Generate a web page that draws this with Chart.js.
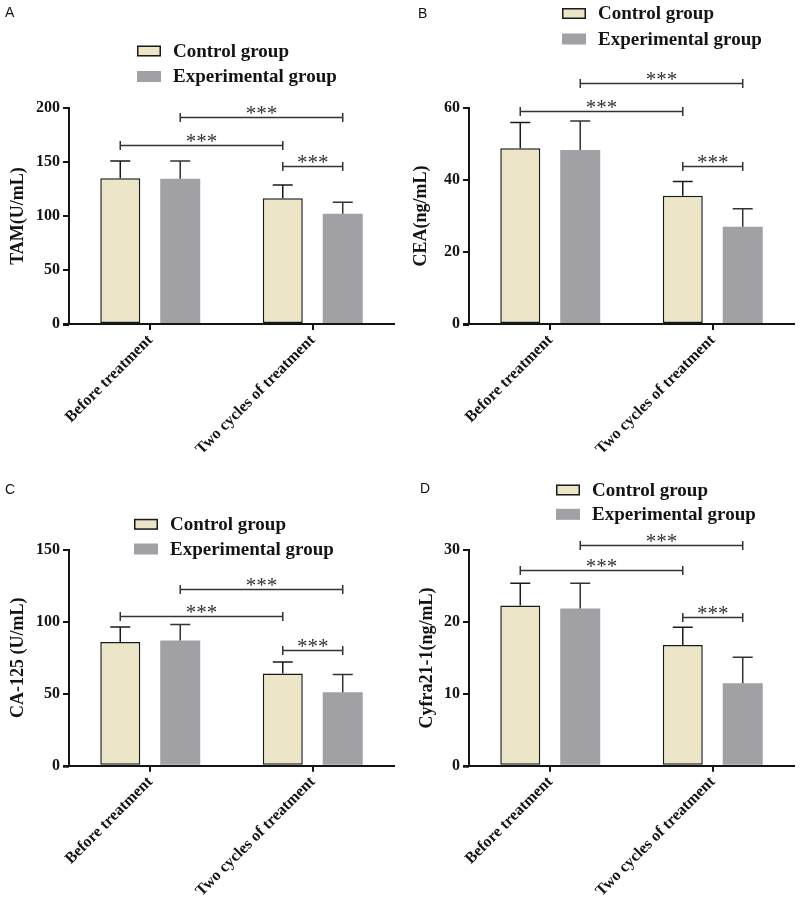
<!DOCTYPE html>
<html>
<head>
<meta charset="utf-8">
<title>Tumour markers before and after treatment</title>
<script src="https://cdn.jsdelivr.net/npm/chart.js@4.4.1/dist/chart.umd.min.js"></script>
<style>
  html, body { margin: 0; padding: 0; background: #fff; }
  #wrap { position: relative; width: 800px; height: 905px; overflow: hidden; }
  .panel { position: absolute; }
  canvas { display: block; }
</style>
</head>
<body>
<div id="wrap">
  <div class="panel" style="left:0;top:0"><canvas id="chartA" width="400" height="452"></canvas></div>
  <div class="panel" style="left:400px;top:0"><canvas id="chartB" width="400" height="452"></canvas></div>
  <div class="panel" style="left:0;top:452px"><canvas id="chartC" width="400" height="453"></canvas></div>
  <div class="panel" style="left:400px;top:452px"><canvas id="chartD" width="400" height="453"></canvas></div>
</div>
<script>
// data (mean and upper SD bar)
const categories = ['Before treatment', 'Two cycles of treatment'];
const groupNames = ['Control group', 'Experimental group'];

// A - TAM
const tamControl = [135.0, 116.4];
const tamControlSD = [16.0, 12.3];
const tamExperimental = [134.5, 102.1];
const tamExperimentalSD = [16.5, 10.6];
const tamTicks = [0, 50, 100, 150, 200];
const tamBrackets = [191.7, 165.7, 146.3];

// B - CEA
const ceaControl = [48.8, 35.6];
const ceaControlSD = [7.2, 4.0];
const ceaExperimental = [48.3, 27.0];
const ceaExperimentalSD = [8.1, 5.0];
const ceaTicks = [0, 20, 40, 60];
const ceaBrackets = [66.9, 59.1, 43.8];

// C - CA-125
const ca125Control = [86.1, 64.2];
const ca125ControlSD = [10.4, 8.0];
const ca125Experimental = [87.1, 51.0];
const ca125ExperimentalSD = [11.1, 12.5];
const ca125Ticks = [0, 50, 100, 150];
const ca125Brackets = [123.2, 104.0, 80.8];

// D - Cyfra21-1
const cyfraControl = [22.3, 16.8];
const cyfraControlSD = [3.1, 2.5];
const cyfraExperimental = [21.9, 11.5];
const cyfraExperimentalSD = [3.5, 3.6];
const cyfraTicks = [0, 10, 20, 30];
const cyfraBrackets = [30.8, 27.2, 20.7];

// which bars each bracket joins: [dataset, category]
const comparisons = [
    { from: [1, 0], to: [1, 1] },
    { from: [0, 0], to: [0, 1] },
    { from: [0, 1], to: [1, 1] }
];
const sigLabel = '***';

const SERIF = '"Liberation Serif", "Times New Roman", serif';
const SANS = '"Liberation Sans", Arial, sans-serif';
const controlFill = '#ece5c8';
const expFill = '#a0a0a5';
const ink = '#141414';

const panels = [
    { id: 'chartA', letter: 'A', letterPos: [5, 13], title: 'TAM(U/mL)', titlePad: 8,
      control: tamControl, controlSD: tamControlSD, exp: tamExperimental, expSD: tamExperimentalSD,
      ticks: tamTicks, brackets: tamBrackets,
      legendX: 137, legendY: [51, 76.5], top: 108, xAxisH: 128 },
    { id: 'chartB', letter: 'B', letterPos: [18, 14], title: 'CEA(ng/mL)', titlePad: 11,
      control: ceaControl, controlSD: ceaControlSD, exp: ceaExperimental, expSD: ceaExperimentalSD,
      ticks: ceaTicks, brackets: ceaBrackets,
      legendX: 162, legendY: [13.5, 39], top: 108, xAxisH: 128 },
    { id: 'chartC', letter: 'C', letterPos: [5, 38.5], title: 'CA-125 (U/mL)', titlePad: 8,
      control: ca125Control, controlSD: ca125ControlSD, exp: ca125Experimental, expSD: ca125ExperimentalSD,
      ticks: ca125Ticks, brackets: ca125Brackets,
      legendX: 134, legendY: [72.3, 97], top: 98, xAxisH: 139.3 },
    { id: 'chartD', letter: 'D', letterPos: [20, 37], title: 'Cyfra21-1(ng/mL)', titlePad: 17,
      control: cyfraControl, controlSD: cyfraControlSD, exp: cyfraExperimental, expSD: cyfraExperimentalSD,
      ticks: cyfraTicks, brackets: cyfraBrackets,
      legendX: 156, legendY: [38, 62.3], top: 98.3, xAxisH: 139.3 }
];

// error bars, significance brackets, legend and panel letter
function makeDecor(p) {
    const sds = [p.controlSD, p.expSD];
    return {
        id: 'decor' + p.letter,
        afterDatasetsDraw(chart) {
            const ctx = chart.ctx;
            const yScale = chart.scales.y;
            ctx.save();
            ctx.lineWidth = 1.5;
            chart.data.datasets.forEach((ds, di) => {
                ctx.strokeStyle = di === 0 ? '#1a1a1a' : '#333';
                chart.getDatasetMeta(di).data.forEach((bar, i) => {
                    const top = yScale.getPixelForValue(ds.data[i] + sds[di][i]);
                    ctx.beginPath();
                    ctx.moveTo(bar.x, bar.y);
                    ctx.lineTo(bar.x, top);
                    ctx.moveTo(bar.x - 10, top);
                    ctx.lineTo(bar.x + 10, top);
                    ctx.stroke();
                });
            });
            ctx.restore();
        },
        afterDraw(chart) {
            const ctx = chart.ctx;
            const yScale = chart.scales.y;
            ctx.save();
            // x axis line runs a little past the y axis, as in the original
            ctx.strokeStyle = ink;
            ctx.lineWidth = 2;
            ctx.beginPath();
            ctx.moveTo(chart.chartArea.left - 6, chart.chartArea.bottom + 1);
            ctx.lineTo(chart.chartArea.left, chart.chartArea.bottom + 1);
            ctx.stroke();
            // brackets
            ctx.strokeStyle = '#333';
            ctx.fillStyle = '#333';
            ctx.lineWidth = 1.5;
            comparisons.forEach((c, k) => {
                const x1 = chart.getDatasetMeta(c.from[0]).data[c.from[1]].x;
                const x2 = chart.getDatasetMeta(c.to[0]).data[c.to[1]].x;
                const yy = Math.round(yScale.getPixelForValue(p.brackets[k])) + 0.5;
                ctx.beginPath();
                ctx.moveTo(x1, yy); ctx.lineTo(x2, yy);
                ctx.moveTo(x1, yy - 4.5); ctx.lineTo(x1, yy + 4.5);
                ctx.moveTo(x2, yy - 4.5); ctx.lineTo(x2, yy + 4.5);
                ctx.stroke();
                ctx.font = '21px ' + SERIF;
                ctx.textAlign = 'center';
                ctx.textBaseline = 'alphabetic';
                const mid = (x1 + x2) / 2;
                for (let s = 0; s < sigLabel.length; s++) {
                    ctx.fillText(sigLabel[s], mid + (s - 1) * 10.5, yy + 2);
                }
            });
            // legend
            ctx.textAlign = 'left';
            ctx.textBaseline = 'middle';
            ctx.font = 'bold 19px ' + SERIF;
            chart.data.datasets.forEach((ds, di) => {
                const ly = p.legendY[di];
                ctx.fillStyle = ds.backgroundColor;
                ctx.fillRect(p.legendX, ly - 5.5, 24, 11);
                if (ds.borderWidth > 0) {
                    ctx.strokeStyle = ds.borderColor;
                    ctx.lineWidth = 1.5;
                    ctx.strokeRect(p.legendX + 0.75, ly - 4.75, 22.5, 9.5);
                }
                ctx.fillStyle = ink;
                ctx.fillText(ds.label, p.legendX + 36, ly + 1);
            });
            // panel letter
            ctx.font = '14px ' + SANS;
            ctx.fillStyle = '#111';
            ctx.fillText(p.letter, p.letterPos[0], p.letterPos[1]);
            ctx.restore();
        }
    };
}

panels.forEach(p => {
    const t = p.ticks;
    new Chart(document.getElementById(p.id), {
        type: 'bar',
        data: {
            labels: categories,
            datasets: [
                { label: groupNames[0], data: p.control, backgroundColor: controlFill,
                  borderColor: '#1a1a1a', borderWidth: 1.5, borderSkipped: false },
                { label: groupNames[1], data: p.exp, backgroundColor: expFill,
                  borderColor: expFill, borderWidth: 0 }
            ]
        },
        options: {
            responsive: false,
            animation: false,
            devicePixelRatio: 1,
            layout: { autoPadding: false, padding: { top: p.top, right: 6, bottom: 0, left: 0 } },
            datasets: { bar: { categoryPercentage: 0.738, barPercentage: 0.667 } },
            plugins: { legend: { display: false }, tooltip: { enabled: false } },
            scales: {
                x: {
                    grid: { display: true, drawOnChartArea: false, offset: false, tickLength: 6, color: ink, lineWidth: 2 },
                    border: { display: true, color: ink, width: 2 },
                    ticks: { color: ink, font: { family: SERIF, size: 16, weight: 'bold' },
                             minRotation: 45, maxRotation: 45, padding: 1, autoSkip: false },
                    afterFit(scale) { scale.height = p.xAxisH; scale.paddingLeft = 0; scale.paddingRight = 0; }
                },
                y: {
                    min: t[0], max: t[t.length - 1],
                    grid: { display: true, drawOnChartArea: false, tickLength: 6, color: ink, lineWidth: 2 },
                    border: { display: true, color: ink, width: 2 },
                    ticks: { stepSize: t[1] - t[0], padding: 3, color: ink,
                             font: { family: SERIF, size: 16, weight: 'bold' } },
                    title: { display: true, text: p.title, color: ink, padding: { top: p.titlePad, bottom: 0 },
                             font: { family: SERIF, size: 18, weight: 'bold' } },
                    afterFit(scale) { scale.width = 69; scale.paddingTop = 0; scale.paddingBottom = 0; }
                }
            }
        },
        plugins: [makeDecor(p)]
    });
});
</script>
</body>
</html>
